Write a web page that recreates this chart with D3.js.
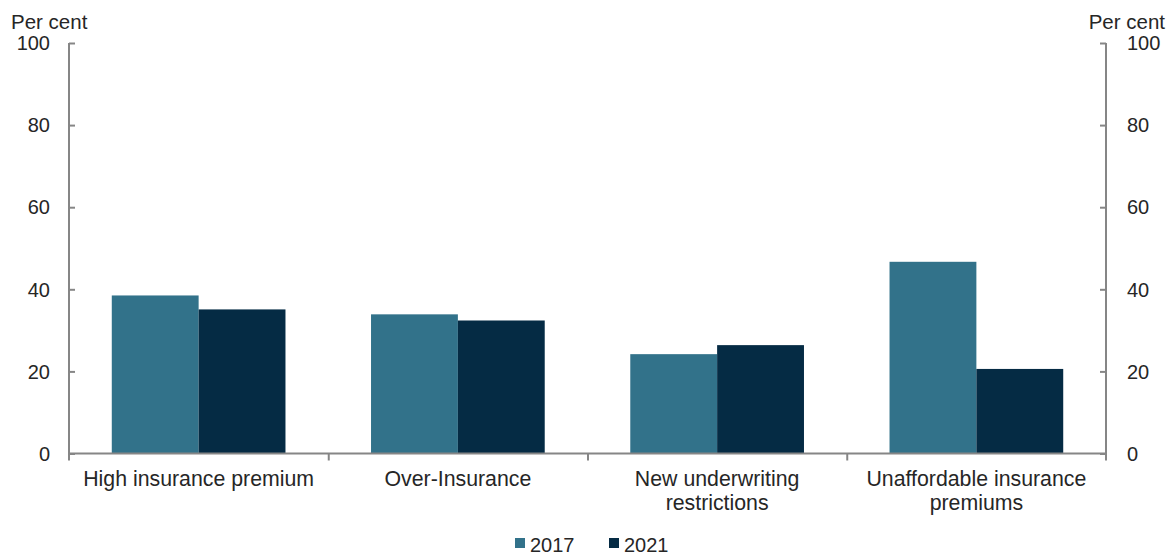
<!DOCTYPE html>
<html>
<head>
<meta charset="utf-8">
<script src="https://cdn.jsdelivr.net/npm/d3@7"></script>
<style>
  html, body { margin: 0; padding: 0; background: #fff; }
  svg { display: block; }
  text { font-family: "Liberation Sans", Arial, sans-serif; fill: #262626; }
</style>
</head>
<body>
<svg id="chart" width="1175" height="555"></svg>
<script>
// ---- Data ----
const categories = [
  "High insurance premium",
  "Over-Insurance",
  "New underwriting\nrestrictions",
  "Unaffordable insurance\npremiums"
];
const seriesNames = ["2017", "2021"];
const values2017 = [38.5, 33.9, 24.2, 46.7];
const values2021 = [35.1, 32.4, 26.4, 20.6];
const yTicks = [0, 20, 40, 60, 80, 100];
const colors = ["#32728a", "#052b44"];
const unitLabel = "Per cent";

(function () {
// ---- Layout ----
const svg = d3.select("#chart");
const pLeft = 69, pRight = 1106, pTop = 43, pBottom = 453.5;
const fontSize = 20;

const x0 = d3.scaleBand().domain(categories).range([pLeft, pRight])
  .paddingInner(0.33).paddingOuter(0.165);
const x1 = d3.scaleBand().domain(seriesNames).range([0, x0.bandwidth()]).padding(0);
const y = d3.scaleLinear().domain([0, 100]).range([pBottom, pTop]);

const seriesData = [values2017, values2021];

// Bars
const groups = svg.append("g").selectAll("g")
  .data(categories).join("g")
  .attr("transform", d => `translate(${x0(d)},0)`);
groups.selectAll("rect")
  .data((d, i) => seriesNames.map((s, j) => ({ s, v: seriesData[j][i], c: colors[j] })))
  .join("rect")
  .attr("x", d => x1(d.s))
  .attr("width", x1.bandwidth())
  .attr("y", d => y(d.v))
  .attr("height", d => y(0) - y(d.v))
  .attr("fill", d => d.c);

// Axes
const axisColor = "#868686";
const leftAxis = svg.append("g").attr("transform", `translate(${pLeft},0)`)
  .call(d3.axisRight(y).tickValues(yTicks).tickSize(6).tickFormat(""));
const rightAxis = svg.append("g").attr("transform", `translate(${pRight},0)`)
  .call(d3.axisLeft(y).tickValues(yTicks).tickSize(6).tickFormat(""));
[leftAxis, rightAxis].forEach(a => {
  a.select(".domain").attr("stroke", axisColor).attr("stroke-width", 2).attr("d", `M0,${pTop}V${pBottom + 7}`);
  a.selectAll(".tick line").attr("stroke", axisColor).attr("stroke-width", 2);
});

// Y tick labels
svg.append("g").selectAll("text").data(yTicks).join("text")
  .attr("x", pLeft - 19).attr("y", d => y(d)).attr("dy", "0.36em")
  .attr("text-anchor", "end").attr("font-size", fontSize).text(d => d);
svg.append("g").selectAll("text").data(yTicks).join("text")
  .attr("x", pRight + 21).attr("y", d => y(d)).attr("dy", "0.36em")
  .attr("text-anchor", "start").attr("font-size", fontSize).text(d => d);

// X axis
const xAxisScale = d3.scaleLinear().domain([0, categories.length]).range([pLeft, pRight]);
const xAxis = svg.append("g").attr("transform", `translate(0,${pBottom})`)
  .call(d3.axisBottom(xAxisScale).tickValues(d3.range(1, categories.length)).tickSize(7).tickFormat(""));
xAxis.select(".domain").attr("stroke", axisColor).attr("stroke-width", 2).attr("d", `M${pLeft},0H${pRight}`);
xAxis.selectAll(".tick line").attr("stroke", axisColor).attr("stroke-width", 2);

// Category labels
const catLabels = svg.append("g").selectAll("text").data(categories).join("text")
  .attr("text-anchor", "middle").attr("font-size", 21.3)
  .attr("transform", d => `translate(${x0(d) + x0.bandwidth() / 2},486)`);
catLabels.selectAll("tspan").data(d => d.split("\n")).join("tspan")
  .attr("x", 0).attr("y", (d, i) => i * 23.5).text(d => d);

// Unit labels
svg.append("text").attr("x", 11).attr("y", 29).attr("font-size", 20.5).text(unitLabel);
svg.append("text").attr("x", 1165).attr("y", 29).attr("text-anchor", "end").attr("font-size", 20.5).text(unitLabel);

// Legend
const legendX = [515, 609];
const legend = svg.append("g").selectAll("g").data(seriesNames).join("g")
  .attr("transform", (d, i) => `translate(${legendX[i]},0)`);
legend.append("rect").attr("x", 0).attr("y", 538).attr("width", 10).attr("height", 10)
  .attr("fill", (d, i) => colors[i]);
legend.append("text").attr("x", 15).attr("y", 552).attr("font-size", fontSize).text(d => d);
})();
</script>
</body>
</html>
